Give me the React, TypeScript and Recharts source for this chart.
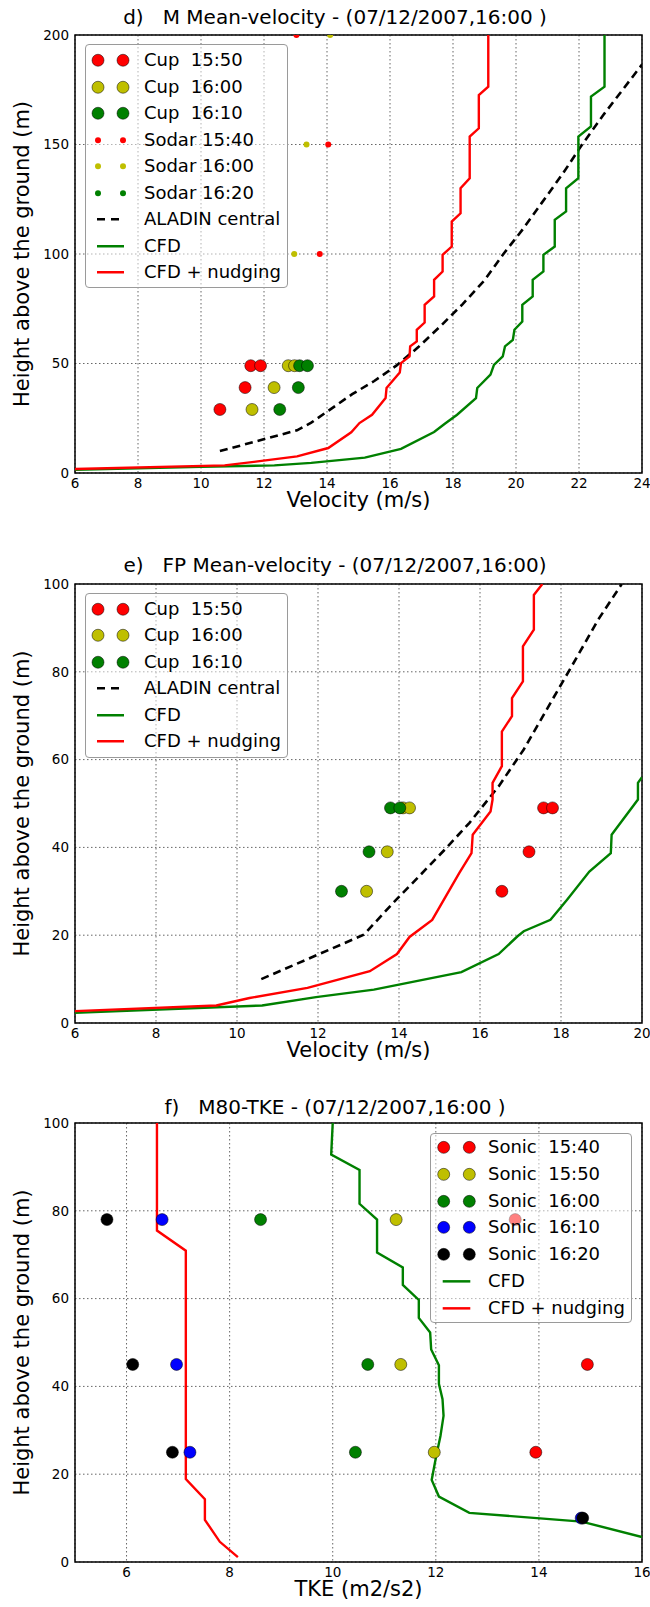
import React from "react"
import {
  ComposedChart,
  Line,
  Scatter,
  XAxis,
  YAxis,
  CartesianGrid,
  ReferenceArea,
  Legend,
} from "recharts"

type Pt = [number, number]

const FONT = '"DejaVu Sans", Verdana, sans-serif'
const RED = "#ff0000"
const YEL = "#bfbf00"
const GRN = "#008000"
const BLU = "#0000ff"
const BLK = "#000000"

// ---- d) M mean velocity ----
const dVelTicks = [6, 8, 10, 12, 14, 16, 18, 20, 22, 24]
const dHeightTicks = [0, 50, 100, 150, 200]
const dCup1550: Pt[] = [[10.6, 29], [11.4, 39], [11.58, 49], [11.89, 49]]
const dCup1600: Pt[] = [[11.62, 29], [12.32, 39], [12.77, 49], [12.97, 49]]
const dCup1610: Pt[] = [[12.5, 29], [13.09, 39], [13.13, 49], [13.38, 49]]
const dSodar1540: Pt[] = [[13.77, 100], [14.04, 150], [13.03, 200]]
const dSodar1600: Pt[] = [[12.96, 100], [13.35, 150], [14.1, 200]]
const dSodar1620: Pt[] = []
const dAladin: Pt[] = [
  [10.6, 10], [13.05, 19.5], [13.5, 23], [14.05, 28.5], [14.8, 36], [15.5, 42], [16.2, 49],
  [16.9, 57.5], [17.6, 67], [18.3, 77], [19.0, 88], [19.6, 100], [20.2, 111], [20.8, 123],
  [21.5, 137], [22.1, 150], [22.8, 164], [24.0, 186.5],
]
const dCfd: Pt[] = [
  [6, 1.5], [10, 2.8], [12.33, 3.5], [13.5, 4.6], [15.2, 7], [16.35, 11], [17.4, 18.7],
  [17.74, 22.5], [18.13, 26.6], [18.73, 34.2], [18.77, 38.8], [19.19, 44.9], [19.3, 49.4],
  [19.58, 53.2], [19.65, 57.8], [19.9, 60.8], [19.95, 65.4], [20.2, 69.2], [20.2, 76.8],
  [20.53, 80.6], [20.53, 88.2], [20.87, 92], [20.87, 99.6], [21.23, 103.4], [21.23, 115.6],
  [21.59, 119.4], [21.59, 130], [21.98, 134.6], [21.98, 153.6], [22.38, 158.2], [22.38, 171.9],
  [22.81, 176.4], [22.81, 200],
]
const dNudge: Pt[] = [
  [6, 1.8], [10.75, 3.5], [11.8, 5.3], [13.05, 7.6], [14.04, 11.4], [14.77, 18.6], [15.03, 22.8],
  [15.43, 26.6], [15.86, 34.2], [15.89, 38.8], [16.31, 45.9], [16.35, 50.2], [16.62, 53.2],
  [16.64, 57.8], [16.85, 60.1], [16.85, 65.4], [17.1, 68.7], [17.1, 76.8], [17.4, 80.6],
  [17.4, 88.2], [17.67, 92], [17.67, 99.6], [17.96, 103.4], [17.96, 114.8], [18.24, 118.6],
  [18.24, 130], [18.53, 134.6], [18.53, 153.6], [18.82, 157.4], [18.82, 172.6], [19.12, 176.4],
  [19.12, 200],
]

// ---- e) FP mean velocity ----
const eVelTicks = [6, 8, 10, 12, 14, 16, 18, 20]
const eHeightTicks = [0, 20, 40, 60, 80, 100]
const eCup1550: Pt[] = [[16.54, 30], [17.21, 39], [17.57, 49], [17.79, 49]]
const eCup1600: Pt[] = [[13.2, 30], [13.71, 39], [14.1, 49], [14.26, 49]]
const eCup1610: Pt[] = [[12.58, 30], [13.26, 39], [13.79, 49], [14.02, 49]]
const eAladin: Pt[] = [
  [10.6, 10], [13.13, 20.1], [13.85, 27.3], [14.41, 32.6], [15.13, 39.5], [15.74, 45.6],
  [16.46, 53.9], [17.08, 62.3], [17.79, 73.7], [18.31, 82], [18.92, 91.9], [19.5, 100],
]
const eCfd: Pt[] = [
  [6, 2.3], [10.62, 4], [11.95, 5.9], [13.38, 7.6], [15.54, 11.6], [16.46, 15.7], [16.92, 19.7],
  [17.08, 20.9], [17.74, 23.5], [18.15, 28.1], [18.7, 34.5], [19.23, 38.7], [19.25, 42.9],
  [19.9, 50.9], [19.9, 54.7], [20, 56],
]
const eNudge: Pt[] = [
  [6, 2.7], [9.49, 4], [10.31, 5.7], [11.74, 8], [13.28, 11.8], [13.95, 15.7], [14.26, 19.6],
  [14.82, 23.5], [15.49, 34.2], [15.79, 38.7], [15.82, 42.9], [16.26, 48.2], [16.31, 50.9],
  [16.31, 54.7], [16.54, 58.5], [16.54, 66.4], [16.79, 69.9], [16.79, 74], [17.06, 77.8],
  [17.06, 85.8], [17.33, 89.6], [17.33, 97.5], [17.54, 100],
]

// ---- f) M80 TKE ----
const fTkeTicks = [6, 8, 10, 12, 14, 16]
const fHeightTicks = [0, 20, 40, 60, 80, 100]
const fSonic1540: Pt[] = [[13.54, 78], [14.94, 45], [13.94, 25]]
const fSonic1550: Pt[] = [[11.23, 78], [11.32, 45], [11.97, 25]]
const fSonic1600: Pt[] = [[8.6, 78], [10.68, 45], [10.44, 25]]
const fSonic1610: Pt[] = [[6.69, 78], [6.97, 45], [7.23, 25], [14.82, 10]]
const fSonic1620: Pt[] = [[5.62, 78], [6.12, 45], [6.89, 25], [14.85, 10]]
const fCfd: Pt[] = [
  [10.0, 100], [9.97, 92.8], [10.52, 89.3], [10.52, 81.6], [10.86, 78], [10.86, 70.5],
  [11.36, 67.1], [11.36, 63.1], [11.67, 59.7], [11.67, 55.6], [11.89, 52.3], [11.91, 48.4],
  [12.06, 44.8], [12.06, 40.6], [12.13, 37.1], [12.15, 33.3], [12.09, 28.7], [12.0, 23.7],
  [11.92, 18.7], [12.06, 14.9], [12.65, 11.2], [14.83, 9.2], [16, 5.7],
]
const fNudge: Pt[] = [
  [6.59, 100], [6.59, 75.5], [7.15, 70.9], [7.15, 18.9], [7.52, 14.3], [7.52, 9.6],
  [7.81, 4.6], [8.16, 1.1],
]

const rows = (pts: Pt[]) => pts.map(([x, y]) => ({ x, y }))

type Kind = "big" | "small" | "dash" | "line"
interface Series {
  name: string
  color: string
  kind: Kind
  pts: Pt[]
}

interface LegendBox {
  left: number
  top: number
  w: number
  h: number
  first: number
  step: number
  m1: number
  m2: number
  textX: number
}

const marker = (kind: Kind, color: string) => (props: any) => {
  const { cx, cy } = props
  if (cx == null || cy == null) return <g />
  return kind === "big" ? (
    <circle cx={cx} cy={cy} r={6} fill={color} stroke="#000" strokeWidth={0.5} />
  ) : (
    <circle cx={cx} cy={cy} r={3} fill={color} stroke="none" />
  )
}

function LegendPanel({ items, box }: { items: Series[]; box: LegendBox }) {
  return (
    <div
      style={{
        position: "relative",
        width: box.w,
        height: box.h,
        boxSizing: "border-box",
        background: "rgba(255,255,255,0.5)",
        border: "1.5px solid #9a9a9a",
        borderRadius: 4,
        fontFamily: FONT,
        fontSize: 18,
        color: "#000",
      }}
    >
      {items.map((it, i) => {
        const top = box.first + i * box.step - box.step / 2
        const mid = box.step / 2
        return (
          <div key={it.name} style={{ position: "absolute", left: 0, top, width: "100%", height: box.step }}>
            <svg width={60} height={box.step} style={{ position: "absolute", left: 0, top: 0 }}>
              {it.kind === "big" &&
                [box.m1, box.m2].map((mx) => (
                  <circle key={mx} cx={mx} cy={mid} r={6} fill={it.color} stroke="#000" strokeWidth={0.5} />
                ))}
              {it.kind === "small" &&
                [box.m1, box.m2].map((mx) => <circle key={mx} cx={mx} cy={mid} r={3} fill={it.color} />)}
              {it.kind === "dash" && (
                <line x1={box.m1 - 1} x2={box.m2 + 1} y1={mid} y2={mid} stroke={it.color} strokeWidth={2.5} strokeDasharray="8 6" />
              )}
              {it.kind === "line" && (
                <line x1={box.m1 - 1} x2={box.m2 + 1} y1={mid} y2={mid} stroke={it.color} strokeWidth={2.5} />
              )}
            </svg>
            <span
              style={{
                position: "absolute",
                left: box.textX,
                top: 0,
                lineHeight: `${box.step}px`,
                whiteSpace: "pre",
              }}
            >
              {it.name}
            </span>
          </div>
        )
      })}
    </div>
  )
}

interface PanelProps {
  top: number
  height: number
  marginTop: number
  marginBottom: number
  title: string
  titleTop: number
  xDomain: [number, number]
  xTicks: number[]
  yDomain: [number, number]
  yTicks: number[]
  xLabel: string
  series: Series[]
  legend: LegendBox
}

function Panel(p: PanelProps) {
  const tickStyle = { fontSize: 13.5, fill: "#000", fontFamily: FONT }
  const lines = p.series.filter((s) => s.kind === "dash" || s.kind === "line")
  const dots = p.series.filter((s) => s.kind === "big" || s.kind === "small")
  return (
    <div style={{ position: "absolute", left: 0, top: p.top, width: 650, height: p.height }}>
      <div
        style={{
          position: "absolute",
          left: 0,
          width: 670,
          top: p.titleTop,
          textAlign: "center",
          fontFamily: FONT,
          fontSize: 20,
          lineHeight: "20px",
          whiteSpace: "pre",
          color: "#000",
        }}
      >
        {p.title}
      </div>
      <ComposedChart
        width={650}
        height={p.height}
        margin={{ top: p.marginTop, right: 8, bottom: p.marginBottom, left: 10 }}
      >
        <CartesianGrid stroke="#666" strokeDasharray="1.5 2.5" strokeWidth={1} />
        <XAxis
          type="number"
          dataKey="x"
          domain={p.xDomain}
          ticks={p.xTicks}
          interval={0}
          allowDataOverflow
          axisLine={false}
          tickLine={false}
          tickSize={0}
          tickMargin={5}
          height={34}
          tick={tickStyle}
          label={{
            value: p.xLabel,
            position: "insideBottom",
            offset: 0,
            style: { fontSize: 21, fill: "#000", fontFamily: FONT },
          }}
        />
        <YAxis
          type="number"
          dataKey="y"
          domain={p.yDomain}
          ticks={p.yTicks}
          interval={0}
          allowDataOverflow
          axisLine={false}
          tickLine={false}
          tickSize={0}
          tickMargin={6}
          width={65}
          tick={tickStyle}
          label={{
            value: "Height above the ground (m)",
            angle: -90,
            position: "insideLeft",
            offset: 12,
            style: { textAnchor: "middle", fontSize: 21, fill: "#000", fontFamily: FONT },
          }}
        />
        {lines.map((s) => (
          <Line
            key={s.name}
            data={rows(s.pts)}
            dataKey="y"
            type="linear"
            stroke={s.color}
            strokeWidth={s.kind === "dash" ? 2.6 : 2.4}
            strokeDasharray={s.kind === "dash" ? "8 5" : undefined}
            dot={false}
            activeDot={false}
            isAnimationActive={false}
          />
        ))}
        {dots.map((s) => (
          <Scatter
            key={s.name}
            data={rows(s.pts)}
            fill={s.color}
            shape={marker(s.kind, s.color)}
            isAnimationActive={false}
          />
        ))}
        <ReferenceArea
          x1={p.xDomain[0]}
          x2={p.xDomain[1]}
          y1={p.yDomain[0]}
          y2={p.yDomain[1]}
          fill="none"
          fillOpacity={0}
          stroke="#000"
          strokeWidth={1.5}
          ifOverflow="visible"
        />
        <Legend
          layout="vertical"
          align="center"
          verticalAlign="middle"
          wrapperStyle={{ left: p.legend.left, top: p.legend.top, width: p.legend.w, height: p.legend.h }}
          content={() => <LegendPanel items={p.series} box={p.legend} />}
        />
      </ComposedChart>
    </div>
  )
}

const dSeries: Series[] = [
  { name: "Cup  15:50", color: RED, kind: "big", pts: dCup1550 },
  { name: "Cup  16:00", color: YEL, kind: "big", pts: dCup1600 },
  { name: "Cup  16:10", color: GRN, kind: "big", pts: dCup1610 },
  { name: "Sodar 15:40", color: RED, kind: "small", pts: dSodar1540 },
  { name: "Sodar 16:00", color: YEL, kind: "small", pts: dSodar1600 },
  { name: "Sodar 16:20", color: GRN, kind: "small", pts: dSodar1620 },
  { name: "ALADIN central", color: BLK, kind: "dash", pts: dAladin },
  { name: "CFD", color: GRN, kind: "line", pts: dCfd },
  { name: "CFD + nudging", color: RED, kind: "line", pts: dNudge },
]

const eSeries: Series[] = [
  { name: "Cup  15:50", color: RED, kind: "big", pts: eCup1550 },
  { name: "Cup  16:00", color: YEL, kind: "big", pts: eCup1600 },
  { name: "Cup  16:10", color: GRN, kind: "big", pts: eCup1610 },
  { name: "ALADIN central", color: BLK, kind: "dash", pts: eAladin },
  { name: "CFD", color: GRN, kind: "line", pts: eCfd },
  { name: "CFD + nudging", color: RED, kind: "line", pts: eNudge },
]

const fSeries: Series[] = [
  { name: "Sonic  15:40", color: RED, kind: "big", pts: fSonic1540 },
  { name: "Sonic  15:50", color: YEL, kind: "big", pts: fSonic1550 },
  { name: "Sonic  16:00", color: GRN, kind: "big", pts: fSonic1600 },
  { name: "Sonic  16:10", color: BLU, kind: "big", pts: fSonic1610 },
  { name: "Sonic  16:20", color: BLK, kind: "big", pts: fSonic1620 },
  { name: "CFD", color: GRN, kind: "line", pts: fCfd },
  { name: "CFD + nudging", color: RED, kind: "line", pts: fNudge },
]

export default function App() {
  return (
    <div style={{ position: "absolute", left: 0, top: 0, width: 650, height: 1607, background: "#fff" }}>
      <Panel
        top={0}
        height={540}
        marginTop={35}
        marginBottom={33}
        title="d)   M Mean-velocity - (07/12/2007,16:00 )"
        titleTop={7}
        xDomain={[6, 24]}
        xTicks={dVelTicks}
        yDomain={[0, 200]}
        yTicks={dHeightTicks}
        xLabel="Velocity (m/s)"
        series={dSeries}
        legend={{ left: 85, top: 44, w: 203, h: 244, first: 15.3, step: 26.5, m1: 12, m2: 37, textX: 58 }}
      />
      <Panel
        top={540}
        height={540}
        marginTop={44}
        marginBottom={23}
        title="e)   FP Mean-velocity - (07/12/2007,16:00)"
        titleTop={15}
        xDomain={[6, 20]}
        xTicks={eVelTicks}
        yDomain={[0, 100]}
        yTicks={eHeightTicks}
        xLabel="Velocity (m/s)"
        series={eSeries}
        legend={{ left: 85, top: 53, w: 203, h: 165, first: 15, step: 26.5, m1: 12, m2: 37, textX: 58 }}
      />
      <Panel
        top={1080}
        height={527}
        marginTop={43}
        marginBottom={11}
        title="f)   M80-TKE - (07/12/2007,16:00 )"
        titleTop={17}
        xDomain={[5, 16]}
        xTicks={fTkeTicks}
        yDomain={[0, 100]}
        yTicks={fHeightTicks}
        xLabel="TKE (m2/s2)"
        series={fSeries}
        legend={{ left: 430, top: 53, w: 202, h: 190, first: 13.7, step: 26.7, m1: 12.7, m2: 38.3, textX: 57 }}
      />
    </div>
  )
}
